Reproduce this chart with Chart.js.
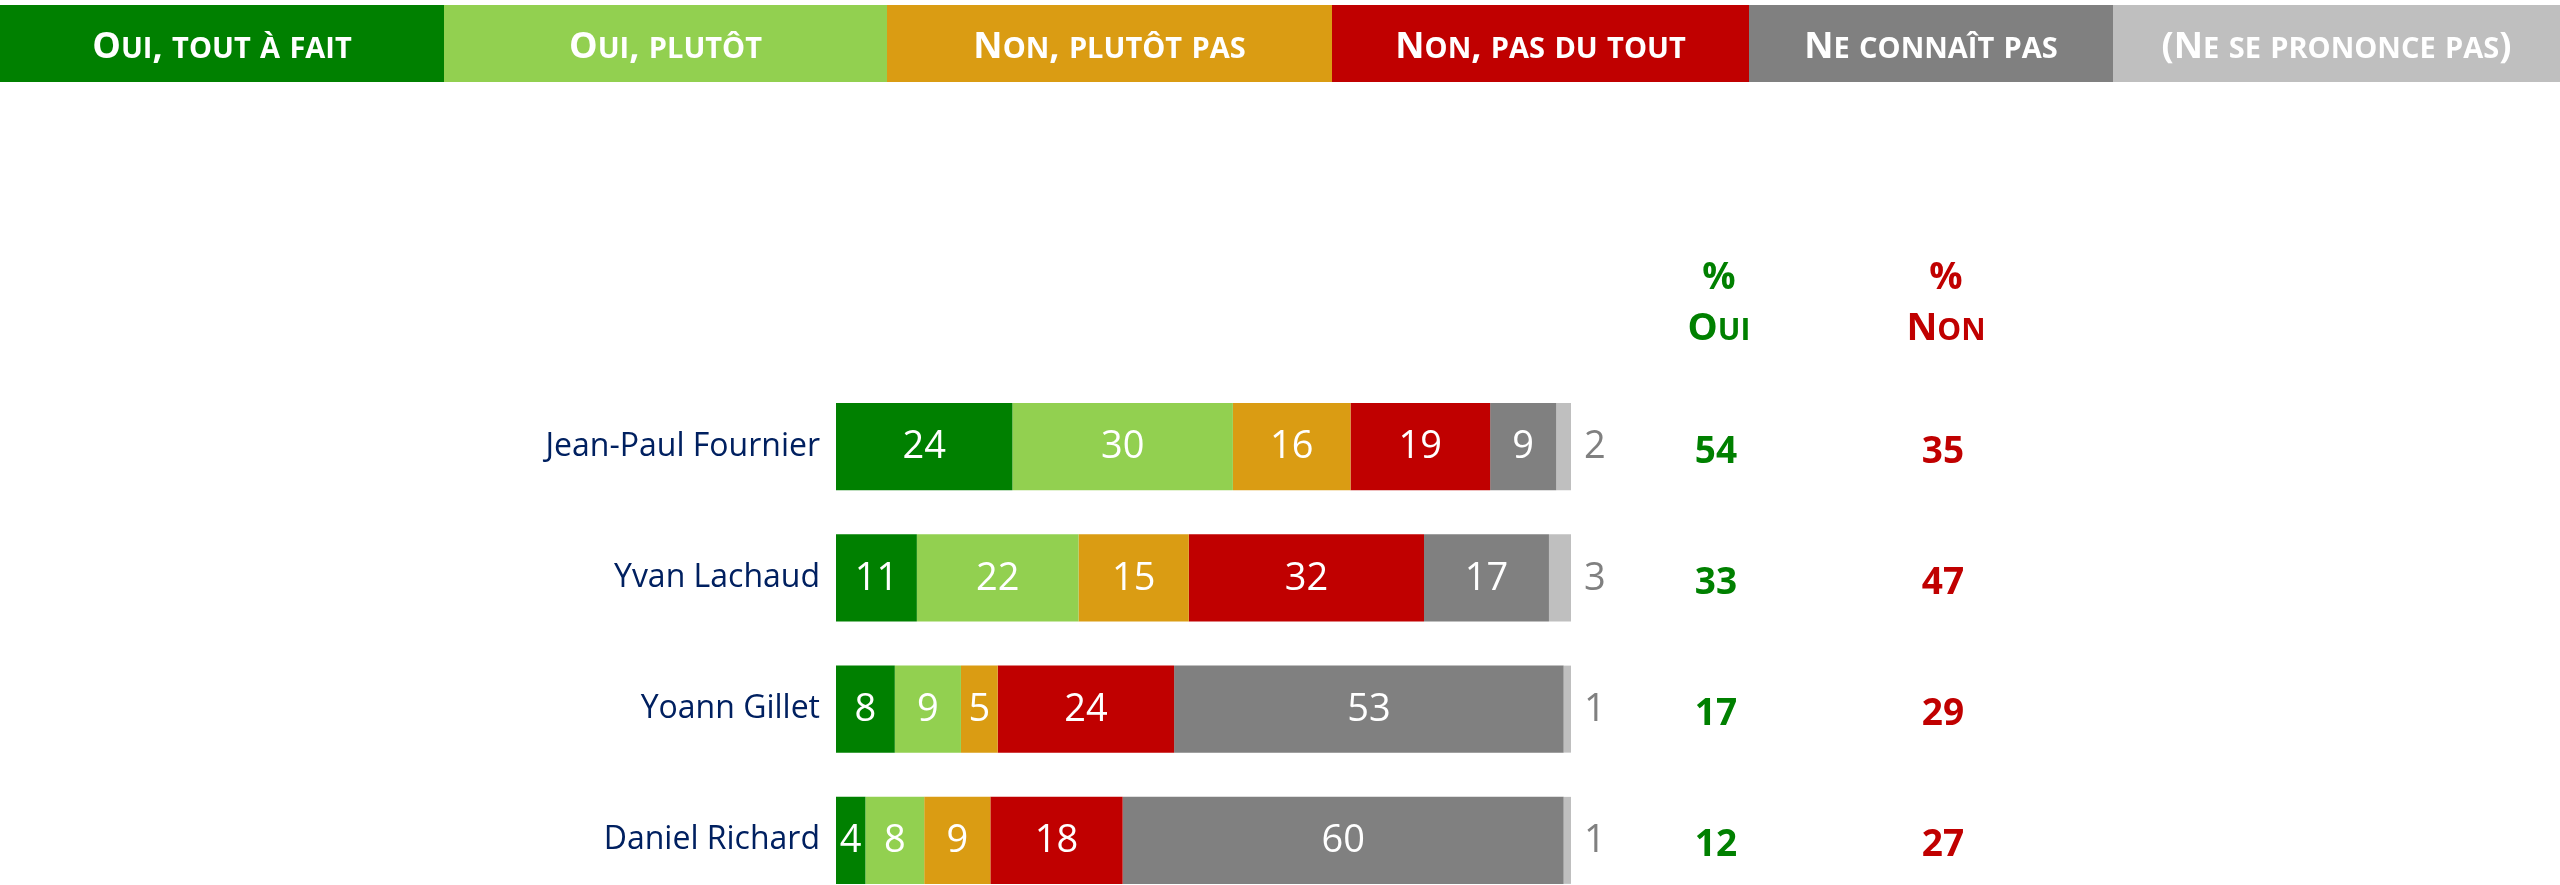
<!DOCTYPE html>
<html>
<head>
<meta charset="utf-8">
<script src="https://cdn.jsdelivr.net/npm/chart.js@4.4.0/dist/chart.umd.min.js"></script>
<style>
  html, body { margin: 0; padding: 0; background: #fff; overflow: hidden; }
</style>
</head>
<body>
<canvas id="chart" width="2560" height="906"></canvas>
<script>
const NAMES = ['Jean-Paul Fournier', 'Yvan Lachaud', 'Yoann Gillet', 'Daniel Richard'];

const SERIES_LABELS = ['Oui, tout à fait', 'Oui, plutôt', 'Non, plutôt pas', 'Non, pas du tout', 'Ne connaît pas', '(Ne se prononce pas)'];
const SERIES_COLORS = ['#008000', '#92D050', '#DA9C13', '#C00000', '#808080', '#BFBFBF'];

const OUI_TOUT = [24, 11, 8, 4];
const OUI_PLUTOT = [30, 22, 9, 8];
const NON_PLUTOT = [16, 15, 5, 9];
const NON_PAS = [19, 32, 24, 18];
const NE_CONNAIT = [9, 17, 53, 60];
const NSP = [2, 3, 1, 1];

const PCT_OUI = [54, 33, 17, 12];
const PCT_NON = [35, 47, 29, 27];

const VALUES = [OUI_TOUT, OUI_PLUTOT, NON_PLUTOT, NON_PAS, NE_CONNAIT, NSP];

// header band edges (layout only)
const HEAD_EDGES = [0, 444, 887, 1332, 1749, 2113, 2560];
const FONT = "'Open Sans', 'Noto Sans', sans-serif";

// fake small caps: lowercase letters drawn as smaller capitals
function smallCaps(ctx, text, cx, y, big, small, maxW) {
  const runs = [];
  for (const ch of text) {
    const low = ch !== ch.toUpperCase();
    const size = low ? small : big;
    const last = runs[runs.length - 1];
    if (last && last.size === size) last.t += ch.toUpperCase();
    else runs.push({ t: ch.toUpperCase(), size });
  }
  let w = 0;
  runs.forEach(r => { ctx.font = `bold ${r.size}px ${FONT}`; r.w = ctx.measureText(r.t).width; w += r.w; });
  const k = maxW && w > maxW ? maxW / w : 1;
  ctx.save();
  ctx.translate(cx - (w * k) / 2, y);
  ctx.scale(k, 1);
  ctx.textAlign = 'left';
  ctx.textBaseline = 'alphabetic';
  let x = 0;
  runs.forEach(r => { ctx.font = `bold ${r.size}px ${FONT}`; ctx.fillText(r.t, x, 0); x += r.w; });
  ctx.restore();
}

const headerPlugin = {
  id: 'header',
  beforeDraw(chart) {
    const ctx = chart.ctx;
    ctx.save();
    chart.data.datasets.forEach((ds, i) => {
      const x0 = HEAD_EDGES[i], x1 = HEAD_EDGES[i + 1];
      ctx.fillStyle = ds.backgroundColor;
      ctx.fillRect(x0, 5, x1 - x0, 77);
      ctx.fillStyle = '#fff';
      smallCaps(ctx, ds.label, (x0 + x1) / 2, 58, 36, 29, (x1 - x0) - 40);
    });
    ctx.restore();
  }
};

const valuesPlugin = {
  id: 'values',
  afterDatasetsDraw(chart) {
    const ctx = chart.ctx;
    const yScale = chart.scales.y;
    ctx.save();
    ctx.textBaseline = 'middle';
    const last = chart.data.datasets.length - 1;
    chart.data.datasets.forEach((ds, i) => {
      const meta = chart.getDatasetMeta(i);
      meta.data.forEach((bar, j) => {
        ctx.font = `38px ${FONT}`;
        if (i === last) {
          ctx.fillStyle = '#808080';
          ctx.textAlign = 'left';
          ctx.fillText(ds.data[j], bar.x + 13, bar.y + 1);
        } else {
          ctx.fillStyle = '#fff';
          ctx.textAlign = 'center';
          ctx.fillText(ds.data[j], (bar.base + bar.x) / 2, bar.y + 1);
        }
      });
    });

    // % Oui / % Non columns
    const cols = [
      { x: 1719, color: '#008000', head: 'Oui', vals: PCT_OUI },
      { x: 1946, color: '#C00000', head: 'Non', vals: PCT_NON },
    ];
    cols.forEach(c => {
      ctx.fillStyle = c.color;
      ctx.textAlign = 'center';
      ctx.textBaseline = 'alphabetic';
      ctx.font = `bold 37px ${FONT}`;
      ctx.fillText('%', c.x, 289);
      smallCaps(ctx, c.head, c.x, 340, 38, 30);
      ctx.textAlign = 'center';
      ctx.font = `bold 37px ${FONT}`;
      c.vals.forEach((v, j) => {
        ctx.fillText(v, c.x - 3, yScale.getPixelForValue(j) + 16);
      });
    });
    ctx.restore();
  }
};

new Chart(document.getElementById('chart'), {
  type: 'bar',
  data: {
    labels: NAMES,
    datasets: VALUES.map((vals, i) => ({
      label: SERIES_LABELS[i],
      data: vals,
      backgroundColor: SERIES_COLORS[i],
      borderWidth: 0,
      categoryPercentage: 1,
      barPercentage: 0.663,
    })),
  },
  options: {
    indexAxis: 'y',
    responsive: false,
    animation: false,
    layout: { padding: { top: 381, right: 989, bottom: 0, left: 0 } },
    scales: {
      x: { stacked: true, display: false, min: 0, max: 100 },
      y: {
        stacked: true,
        grid: { display: false, drawTicks: false },
        border: { display: false },
        ticks: { color: '#002060', padding: 16, font: { family: FONT, size: 32 } },
        afterFit(scale) {
          scale.width = 836;
          scale.paddingTop = 0;
          scale.paddingBottom = 0;
        },
      },
    },
    plugins: {
      legend: { display: false },
      tooltip: { enabled: false },
    },
  },
  plugins: [headerPlugin, valuesPlugin],
});
</script>
</body>
</html>
